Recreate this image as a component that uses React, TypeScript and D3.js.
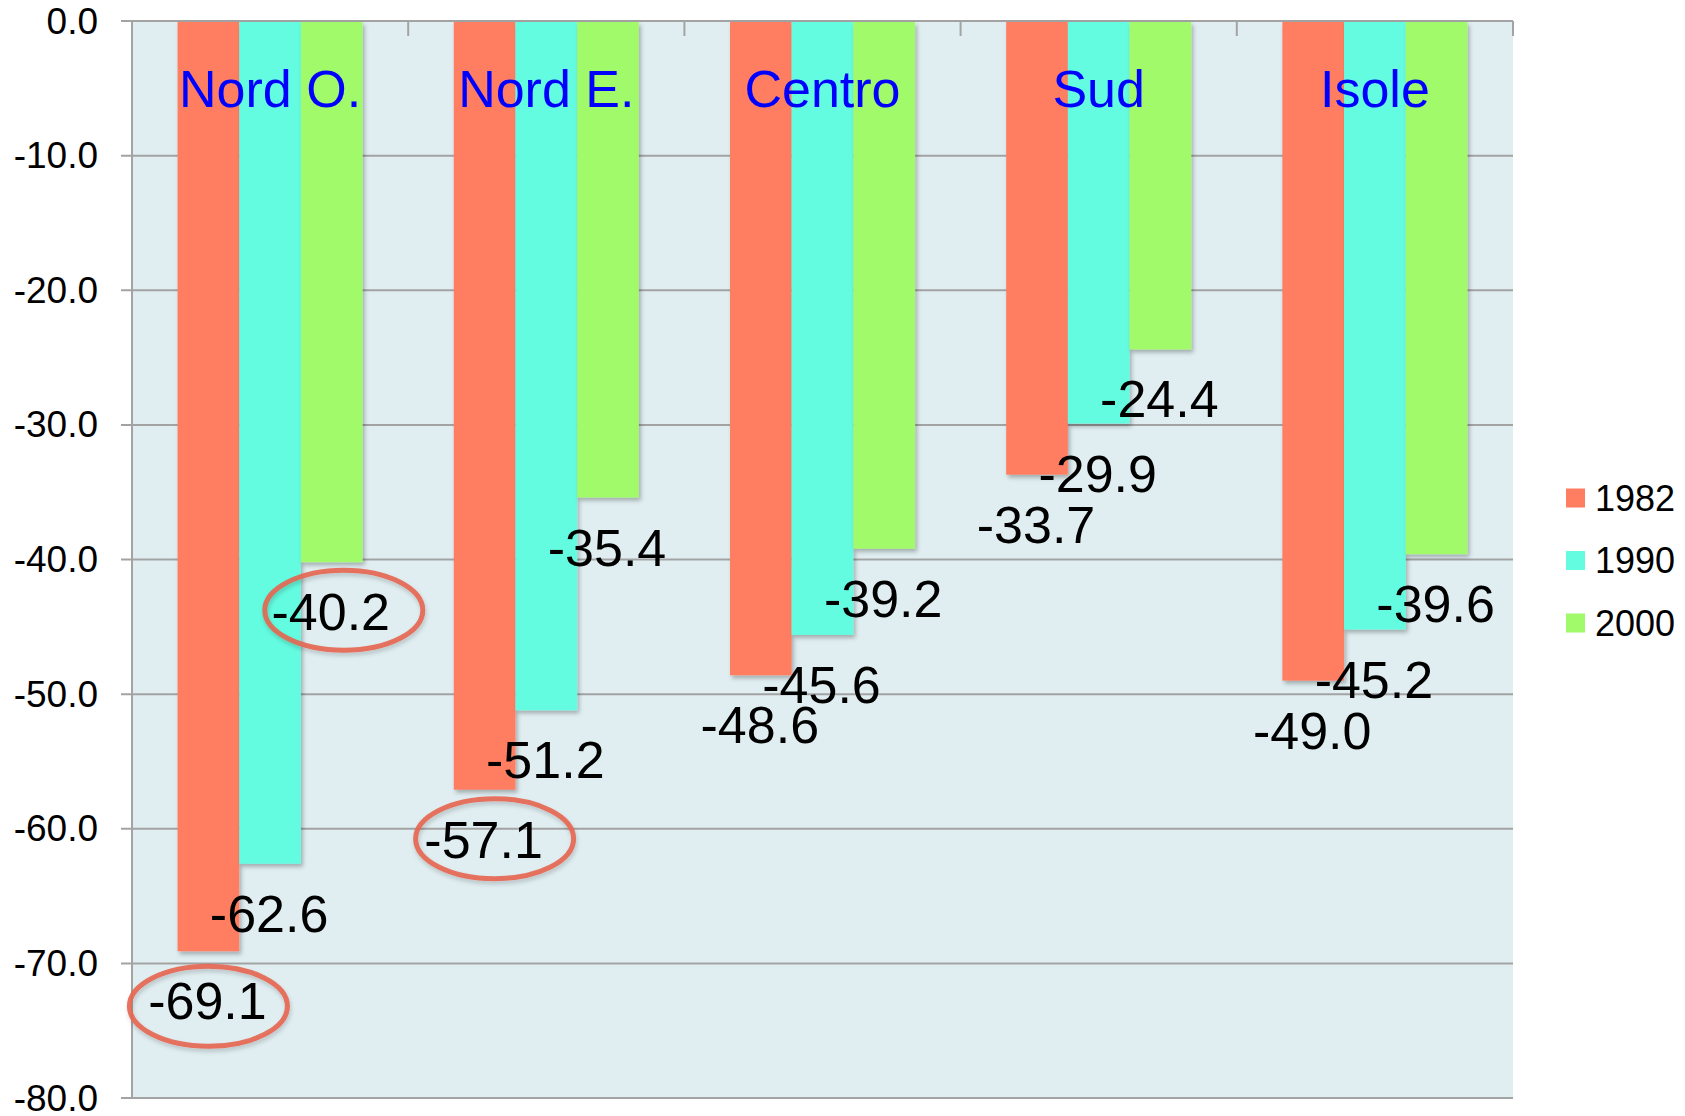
import React from "react";
import * as d3 from "d3";

const categories = ["Nord O.", "Nord E.", "Centro", "Sud", "Isole"];
const seriesNames = ["1982", "1990", "2000"];
const values1982 = [-69.1, -57.1, -48.6, -33.7, -49.0];
const values1990 = [-62.6, -51.2, -45.6, -29.9, -45.2];
const values2000 = [-40.2, -35.4, -39.2, -24.4, -39.6];
const yTicks = [0, -10, -20, -30, -40, -50, -60, -70, -80];
const colors = ["#FF7E62", "#63FCE0", "#A0FA6A"];

// circled annotations: category index, series index
const circled = [
  { cat: 0, ser: 0, dx: 0, dy: 55 },
  { cat: 1, ser: 0, dx: 10, dy: 49 },
  { cat: 0, ser: 2, dx: 12, dy: 48 },
];

const W = 1685;
const H = 1116;
const left = 132;
const right = 1513;
const top = 21;
const bottom = 1098;
const FONT = "'Liberation Sans', Arial, Helvetica, sans-serif";

export default function App() {
  const seriesValues = [values1982, values1990, values2000];
  const x0 = d3
    .scaleBand<string>()
    .domain(categories)
    .range([left, right])
    .paddingInner(0.33)
    .paddingOuter(0.165);
  const x1 = d3
    .scaleBand<string>()
    .domain(seriesNames)
    .range([0, x0.bandwidth()]);
  const y = d3.scaleLinear().domain([0, -80]).range([top, bottom]);
  const step = x0.step();
  const boundaries = d3.range(categories.length + 1).map((i) => left + i * step);
  const grid = "#A3A3A3";

  const barCx = (ci: number, si: number) =>
    (x0(categories[ci]) as number) + (x1(seriesNames[si]) as number) + x1.bandwidth() / 2;

  return (
    <svg
      width={W}
      height={H}
      style={{ position: "absolute", left: 0, top: 0, background: "#fff" }}
      fontFamily={FONT}
    >
      <defs>
        <filter id="sh" x="-20%" y="-5%" width="140%" height="115%">
          <feDropShadow dx="2" dy="3" stdDeviation="2" floodColor="#000" floodOpacity="0.28" />
        </filter>
        <filter id="esh" x="-20%" y="-20%" width="140%" height="150%">
          <feDropShadow dx="1" dy="3" stdDeviation="2" floodColor="#000" floodOpacity="0.2" />
        </filter>
      </defs>
      <rect x={left} y={top} width={right - left} height={bottom - top} fill="#E0EEF1" />
      {yTicks.map((t) => (
        <g key={t}>
          <line x1={left - 11} x2={right} y1={y(t)} y2={y(t)} stroke={grid} strokeWidth={2} />
          <text
            x={98}
            y={y(t)}
            dy="0.34em"
            textAnchor="end"
            fontSize={37}
            fill="#000"
          >
            {t.toFixed(1)}
          </text>
        </g>
      ))}
      <line x1={left} x2={left} y1={top} y2={bottom} stroke={grid} strokeWidth={2} />
      {boundaries.slice(1).map((b, i) => (
        <line key={i} x1={b} x2={b} y1={top} y2={top + 15} stroke={grid} strokeWidth={2} />
      ))}
      {categories.map((c, ci) =>
        seriesNames.map((s, si) => {
          const v = seriesValues[si][ci];
          return (
            <rect
              key={c + s}
              x={(x0(c) as number) + (x1(s) as number)}
              y={y(0) + 1}
              width={x1.bandwidth()}
              height={y(v) - y(0) - 1}
              fill={colors[si]}
              filter="url(#sh)"
            />
          );
        })
      )}
      {categories.map((c) => (
        <text
          key={c}
          x={(x0(c) as number) + x0.bandwidth() / 2}
          y={107}
          textAnchor="middle"
          fontSize={52}
          fill="#0000FF"
        >
          {c}
        </text>
      ))}
      {categories.map((c, ci) =>
        seriesNames.map((s, si) => {
          const v = seriesValues[si][ci];
          return (
            <text
              key={"l" + c + s}
              x={barCx(ci, si) - 1}
              y={y(v) + 68}
              textAnchor="middle"
              fontSize={52}
              fill="#000"
            >
              {v.toFixed(1)}
            </text>
          );
        })
      )}
      {circled.map((a, i) => {
        const v = seriesValues[a.ser][a.cat];
        return (
          <ellipse
            key={i}
            cx={barCx(a.cat, a.ser) + a.dx}
            cy={y(v) + a.dy}
            rx={79}
            ry={40}
            fill="none"
            stroke="#E5654F"
            strokeOpacity={0.9}
            strokeWidth={5}
            filter="url(#esh)"
          />
        );
      })}
      {seriesNames.map((s, si) => (
        <g key={s} transform={`translate(1566, ${498 + si * 62.5})`}>
          <rect x={0} y={-9.5} width={19} height={19} fill={colors[si]} />
          <text x={29} y={0} dy="0.36em" fontSize={36} fill="#000">
            {s}
          </text>
        </g>
      ))}
    </svg>
  );
}
